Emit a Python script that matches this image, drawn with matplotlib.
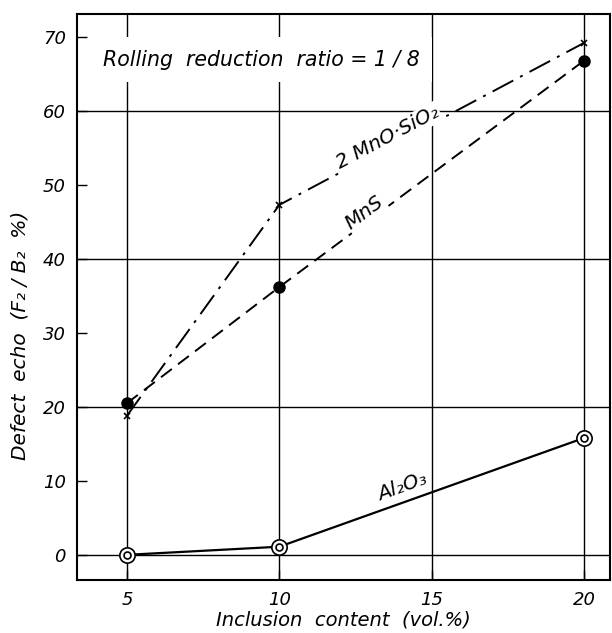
import matplotlib
matplotlib.use("Agg")
import matplotlib.pyplot as plt

# Data
x_content = [5, 10, 20]
mns2sio2 = [18.8, 47.3, 69.2]     # 2MnO·SiO2, x markers, dash-dot
mns = [20.5, 36.2, 66.8]          # MnS, filled circles, dashed
al2o3 = [0.0, 1.1, 15.8]          # Al2O3, double circles, solid

x_ticks = [5, 10, 15, 20]
y_ticks = [0, 10, 20, 30, 40, 50, 60, 70]
y_grid = [0, 20, 40, 60]

plt.rcParams['font.family'] = ['DejaVu Sans']
plt.rcParams['font.style'] = 'italic'

fig = plt.figure(figsize=(6.12, 6.33), dpi=100)
ax = fig.add_axes([77/612, 1-580/633, (610-77)/612, (580-14)/633])
ax.set_xlim(3.36, 20.85)
ax.set_ylim(-3.4, 73.1)

for yv in y_grid:
    ax.axhline(yv, color='black', lw=1.0, zorder=1)
for xv in x_ticks:
    ax.axvline(xv, color='black', lw=1.0, zorder=1)

ax.plot(x_content, mns2sio2, color='black', lw=1.4, ls=(0, (12, 4, 1.5, 4)),
        marker='x', ms=5, mew=1.2, zorder=3)
ax.plot(x_content, mns, color='black', lw=1.4, ls=(0, (7, 4)),
        marker='o', ms=8, mfc='black', mec='black', zorder=3)
ax.plot(x_content, al2o3, color='black', lw=1.6, ls='-', zorder=3)
ax.plot(x_content, al2o3, ls='none', marker='o', ms=11, mfc='white',
        mec='black', mew=1.2, zorder=4)
ax.plot(x_content, al2o3, ls='none', marker='o', ms=5, mfc='white',
        mec='black', mew=1.2, zorder=5)

ax.set_xticks(x_ticks)
ax.set_yticks(y_ticks)
ax.set_xticklabels([str(v) for v in x_ticks], fontsize=13, style='italic')
ax.set_yticklabels([str(v) for v in y_ticks], fontsize=13, style='italic')
ax.tick_params(direction='in', length=7, width=1.0, pad=8)
for s in ax.spines.values():
    s.set_linewidth(1.5)

ax.set_xlabel('Inclusion  content  (vol.%)', fontsize=14, style='italic', va='center')
ax.xaxis.set_label_coords(0.5, -0.070)
ax.set_ylabel('Defect  echo  (F₂ / B₂  %)', fontsize=14.5, style='italic', va='center')
ax.yaxis.set_label_coords(-0.107, 0.433)

ax.text(4.2, 66.9, 'Rolling  reduction  ratio = 1 / 8', fontsize=14.8,
        style='italic', va='center', ha='left', zorder=6,
        bbox=dict(facecolor='white', edgecolor='none', pad=9))

ax.text(13.55, 56.4, '2 MnO·SiO₂', fontsize=14.5, style='italic', rotation=28,
        ha='center', va='center', rotation_mode='anchor', zorder=6,
        bbox=dict(facecolor='white', edgecolor='none', pad=1))
ax.text(12.8, 46.3, 'MnS', fontsize=14.5, style='italic', rotation=37,
        ha='center', va='center', rotation_mode='anchor', zorder=6,
        bbox=dict(facecolor='white', edgecolor='none', pad=1))
ax.text(14.05, 9.2, 'Al₂O₃', fontsize=14.5, style='italic', rotation=20,
        ha='center', va='center', rotation_mode='anchor', zorder=6,
        bbox=dict(facecolor='white', edgecolor='none', pad=0.5))

fig.savefig('out.png', dpi=100)
